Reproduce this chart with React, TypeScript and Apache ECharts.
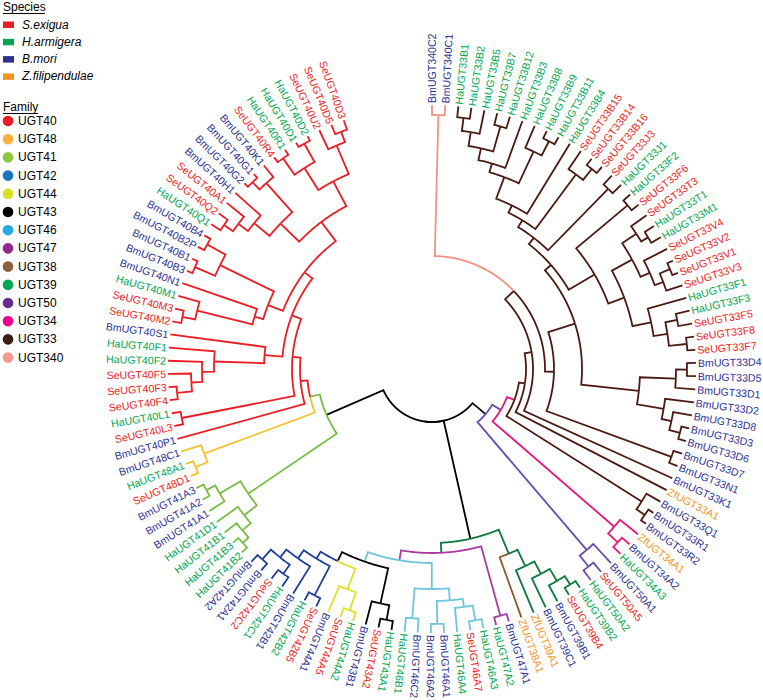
import React, { useEffect, useRef } from 'react';
import * as echarts from 'echarts';

// ---------- leaves (clockwise from 12 o'clock) ----------
const leafNames: string[] = [
  'BmUGT340C2', 'BmUGT340C1', 'HaUGT33B1', 'HaUGT33B2', 'HaUGT33B5', 'HaUGT33B7', 'HaUGT33B12', 'HaUGT33B3',
  'HaUGT33B8', 'HaUGT33B9', 'HaUGT33B11', 'HaUGT33B4', 'SeUGT33B15', 'SeUGT33B14', 'SeUGT33B16', 'SeUGT33J3',
  'HaUGT33J1', 'HaUGT33F2', 'SeUGT33F6', 'SeUGT33T3', 'HaUGT33T1', 'HaUGT33M1', 'SeUGT33V4', 'SeUGT33V2',
  'SeUGT33V1', 'SeUGT33V3', 'HaUGT33F1', 'HaUGT33F3', 'SeUGT33F5', 'SeUGT33F8', 'SeUGT33F7', 'BmUGT33D4',
  'BmUGT33D5', 'BmUGT33D1', 'BmUGT33D2', 'BmUGT33D8', 'BmUGT33D3', 'BmUGT33D6', 'BmUGT33D7', 'BmUGT33N1',
  'BmUGT33K1', 'ZfUGT33A1', 'BmUGT33Q1', 'BmUGT33R1', 'BmUGT33R2', 'ZfUGT34A1', 'BmUGT34A2', 'HaUGT34A3',
  'BmUGT50A1', 'SeUGT50A5', 'HaUGT50A2', 'HaUGT39B2', 'SeUGT39B4', 'BmUGT39B1', 'BmUGT39C1', 'ZfUGT39A1',
  'ZfUGT38A1', 'BmUGT47A1', 'HaUGT47A2', 'HaUGT46A3', 'SeUGT46A7', 'HaUGT46A4', 'BmUGT46A1', 'BmUGT46A2',
  'BmUGT46C2', 'HaUGT46B1', 'HaUGT43A1', 'SeUGT43A2', 'BmUGT43B1', 'HaUGT44A2', 'SeUGT44A5', 'BmUGT44A1',
  'SeUGT42B5', 'HaUGT42B2', 'BmUGT42B1', 'HaUGT42C1', 'SeUGT42C2', 'BmUGT42A1', 'BmUGT42A2', 'HaUGT41B2',
  'HaUGT41B3', 'HaUGT41B1', 'HaUGT41D1', 'BmUGT41A1', 'BmUGT41A2', 'BmUGT41A3', 'SeUGT48D1', 'HaUGT48A1',
  'BmUGT48C1', 'BmUGT40P1', 'SeUGT40L3', 'HaUGT40L1', 'SeUGT40F4', 'SeUGT40F3', 'SeUGT40F5', 'HaUGT40F2',
  'HaUGT40F1', 'BmUGT40S1', 'SeUGT40M2', 'SeUGT40M3', 'HaUGT40M1', 'BmUGT40N1', 'BmUGT40B3', 'BmUGT40B1',
  'BmUGT40B2P', 'BmUGT40B4', 'HaUGT40Q1', 'SeUGT40Q2', 'SeUGT40A1', 'BmUGT40H1', 'BmUGT40G2', 'BmUGT40G1',
  'BmUGT40K1', 'SeUGT40R4', 'HaUGT40R1', 'HaUGT40D1', 'HaUGT40D2', 'SeUGT40U2', 'SeUGT40D5', 'SeUGT40D3',
];

// ---------- legend data ----------
const speciesNames = ['S.exigua', 'H.armigera', 'B.mori', 'Z.filipendulae'];
const speciesPrefixes = ['Se', 'Ha', 'Bm', 'Zf'];
const speciesColors = ['#ED1C24', '#00A651', '#2E3192', '#F7941D'];

const familyNames = ['UGT40', 'UGT48', 'UGT41', 'UGT42', 'UGT44', 'UGT43', 'UGT46', 'UGT47', 'UGT38', 'UGT39', 'UGT50', 'UGT34', 'UGT33', 'UGT340'];
const familyLegendColors = ['#ED1C24', '#FBB040', '#8DC63F', '#1C75BC', '#D7DF23', '#000000', '#27AAE1', '#92278F', '#8B5E3C', '#00A651', '#662D91', '#EC008C', '#3B1E12', '#F4998D'];
const familyBranchColors = ['#EC1C24', '#F7C12B', '#79BD43', '#1E3F9A', '#E0E02C', '#000000', '#6EC6DA', '#A93A9E', '#8B5A2B', '#0A7A3E', '#6A4BAE', '#E8177B', '#4A1A12', '#F29283'];

// ---------- topology: (children)nodeRadius[:familyColourCode]; leaves = indices ----------
const cladeUGT340 = '(0,1)254';
const cladeB1 = '((((2,3)253,4)240,(5,6)252)226,7)214';
const cladeB2 = '(8,(9,10)256)240';
const cladeB15 = '(12,(13,14)256)242';
const cladeJ = '(15,16)252';
const cladeF2 = '(17,18)255';
const cladeTV = '((19,(20,21)253)245,(22,((23,24)258,25)247)238)228';
const cladeF33 = '(26,((27,28)250,(29,30)256)238)224';
const cladeD = '(((31,32)255,33)244,(34,(35,(36,37)256)245)235)208';
const cladeDN = '(38,39)255';
const cladeQR = '(42,(43,44)258)248';
const cladeUGT34 = '(45,(46,47)254)241';
const cladeUGT50 = '(48,(49,50)252)238';

const cladeUGT39 = '((((51,52)256,53)246,54)232,55)218';
const cladeUGT47 = '(57,58)256';
const cladeUGT46 = '((((59,60)255,61)240,(62,63)255)232,(64,65)250)220';
const cladeUGT43 = '((66,67)255,68)240';
const cladeUGT44 = '((69,70)255,71)236';
const cladeUGT42 = '((72,73)255,(74,((75,76)253,(77,78)255)242)232)222';

const cladeUGT41 = '((((79,80)257,81)249,82)238,(83,(84,85)256)246)222';
const cladeUGT48 = '((86,87)256,88)243';
const cladeL40 = '(90,91)255';
const cladeF40 = '((((92,93)256,94)241,95)230,96)218';
const cladeM40 = '(((98,99)255,100)242,101)185';
const cladeB40 = '((102,103)258,(104,105)257)236';
const cladeQ40 = '(((106,107)253,108)242,109)230';
const cladeG40 = '((110,111)259,112)249';
const cladeD40 = '((113,114)258,(115,116)259)238';
const cladeU40 = '(117,(118,119)254)243';

const nU3 = `(${cladeB1},${cladeB2})205`;
const nU4 = `(${nU3},11)182`;
const nU6 = `(${nU4},${cladeB15})174`;
const nU7 = `(${nU6},${cladeJ})166`;
const nM = `(${cladeTV},${cladeF33})205`;
const nN = `(${cladeF2},${nM})188`;
const nO = `(${nU7},${nN})158`;
const nP = `(${nO},${cladeD})150`;
const nX = `(${nP},${cladeDN})122`;
const nT = `(${cladeUGT340},${nX})113:33`;
const nS1 = `(${nT},40)101:33`;
const nS2 = `(${nS1},41)94:33`;
const nS3 = `(${nS2},${cladeQR})88:34`;
const nP34 = `(${nS3},${cladeUGT34})80:50`;
const nRight = `(${nP34},${cladeUGT50})70`;

const n3938 = `(${cladeUGT39},56)200:39`;
const n4244 = `(${cladeUGT44},${cladeUGT42})214`;
const n43x = `(${cladeUGT43},${n4244})204:46`;
const n46x = `(${cladeUGT46},${n43x})194:47`;
const n47x = `(${cladeUGT47},${n46x})184:39`;
const nBottom = `(${n3938},${n47x})174`;

const nFS = `(${cladeF40},97)168`;
const nBMN = `(${cladeM40},${cladeB40})176`;
const nQG = `(${cladeQ40},${cladeG40})210`;
const nDU = `(${cladeD40},${cladeU40})212`;
const nQGDU = `(${nQG},${nDU})184`;
const n40d = `(${nBMN},${nQGDU})160`;
const n40c = `(${nFS},${n40d})150`;
const n40b = `(${cladeL40},${n40c})140`;
const n40a = `(89,${n40b})132`;
const n4840 = `(${cladeUGT48},${n40a})125:41`;
const nLeft = `(${cladeUGT41},${n4840})115`;

const treeSource = `(${nRight},${nBottom},${nLeft})53`;

// ---------- layout constants ----------
const TIP_R = 264;
const LABEL_R = 266;
const ANGLE_MAX = 125.83; // leaf slots for a full turn
const FONT = '"Liberation Sans", Arial, Helvetica, sans-serif';

type TNode = { leaf: number; kids: TNode[]; r: number; code: string; a: number; fams: Set<number> };

function parseTree(src: string): TNode {
  let i = 0;
  const readNum = () => {
    const s = i;
    while (i < src.length && /[0-9.]/.test(src[i])) i++;
    return src.slice(s, i);
  };
  const parseNode = (): TNode => {
    if (src[i] === '(') {
      i++;
      const kids = [parseNode()];
      while (src[i] === ',') { i++; kids.push(parseNode()); }
      i++;
      const r = parseFloat(readNum());
      let code = '';
      if (src[i] === ':') { i++; code = readNum(); }
      return { leaf: -1, kids, r, code, a: 0, fams: new Set<number>() };
    }
    const leaf = parseInt(readNum(), 10);
    return { leaf, kids: [], r: TIP_R, code: '', a: leaf, fams: new Set<number>() };
  };
  return parseNode();
}

function familyOf(name: string) {
  const m = name.match(/UGT\d+/);
  return familyNames.indexOf(m ? m[0] : '');
}

function finish(n: TNode) {
  if (n.leaf >= 0) { n.fams.add(familyOf(leafNames[n.leaf])); return; }
  n.kids.forEach(finish);
  n.a = (n.kids[0].a + n.kids[n.kids.length - 1].a) / 2;
  n.kids.forEach((k) => k.fams.forEach((f) => n.fams.add(f)));
}

function nodeColor(n: TNode): number {
  if (n.fams.size === 1) return Array.from(n.fams)[0];
  if (n.code) return familyNames.indexOf('UGT' + n.code);
  return -1;
}

function collect(n: TNode, out: number[][]) {
  n.kids.forEach((k) => {
    out.push([k.r, k.a, n.r, n.a, nodeColor(k)]);
    collect(k, out);
  });
}

function buildOption() {
  const root = parseTree(treeSource);
  finish(root);
  const branchData: number[][] = [];
  collect(root, branchData);
  const labelData = leafNames.map((_, i) => [LABEL_R, i]);

  const legend: any[] = [];
  legend.push({ type: 'text', x: 3, y: 7, style: { text: 'Species', fontSize: 12, fontFamily: FONT, fill: '#000', verticalAlign: 'middle' } });
  legend.push({ type: 'line', shape: { x1: 3, y1: 13.5, x2: 45, y2: 13.5 }, style: { stroke: '#000', lineWidth: 1 } });
  speciesNames.forEach((s, i) => {
    const y = 24.5 + i * 17.3;
    legend.push({ type: 'rect', shape: { x: 3, y: y - 3, width: 11, height: 6.5 }, style: { fill: speciesColors[i] } });
    legend.push({ type: 'text', x: 22, y, style: { text: s, fontSize: 12, fontStyle: 'italic', fontFamily: FONT, fill: '#000', verticalAlign: 'middle' } });
  });
  legend.push({ type: 'text', x: 3, y: 107, style: { text: 'Family', fontSize: 12, fontFamily: FONT, fill: '#000', verticalAlign: 'middle' } });
  legend.push({ type: 'line', shape: { x1: 3, y1: 113.5, x2: 38, y2: 113.5 }, style: { stroke: '#000', lineWidth: 1 } });
  familyNames.forEach((f, i) => {
    const y = 121 + i * 18.2;
    legend.push({ type: 'circle', shape: { cx: 8, cy: y, r: 5.3 }, style: { fill: familyLegendColors[i] } });
    legend.push({ type: 'text', x: 18, y, style: { text: f, fontSize: 12, fontFamily: FONT, fill: '#000', verticalAlign: 'middle' } });
  });

  return {
    animation: false,
    backgroundColor: '#ffffff',
    polar: { center: [432, 369], radius: 300 },
    angleAxis: { type: 'value', min: 0, max: ANGLE_MAX, startAngle: 90, clockwise: true, show: false },
    radiusAxis: { type: 'value', min: 0, max: 300, show: false },
    graphic: legend,
    series: [
      {
        type: 'custom',
        coordinateSystem: 'polar',
        silent: true,
        data: branchData,
        encode: { radius: 0, angle: 1 },
        renderItem: (params: any, api: any) => {
          const r1 = api.value(0);
          const a1 = api.value(1);
          const r0 = api.value(2);
          const a0 = api.value(3);
          const ci = api.value(4);
          const pts: number[][] = [];
          const n = Math.max(2, Math.ceil(Math.abs(a1 - a0) / 0.1));
          for (let k = 0; k <= n; k++) {
            pts.push(api.coord([r0, a0 + ((a1 - a0) * k) / n]));
          }
          pts.push(api.coord([r1, a1]));
          return {
            type: 'polyline',
            shape: { points: pts },
            style: { stroke: ci < 0 ? '#000000' : familyBranchColors[ci], fill: null, lineWidth: 1.8, lineJoin: 'miter' },
          };
        },
      },
      {
        type: 'custom',
        coordinateSystem: 'polar',
        silent: true,
        data: labelData,
        encode: { radius: 0, angle: 1 },
        renderItem: (params: any, api: any) => {
          const idx = params.dataIndex;
          const p = api.coord([api.value(0), api.value(1)]);
          const c = api.coord([0, 0]);
          const deg = (Math.atan2(p[1] - c[1], p[0] - c[0]) * 180) / Math.PI;
          const norm = (deg + 360) % 360;
          const flip = norm > 134.5 && norm < 269.5;
          const rot = flip ? (-(norm - 180) * Math.PI) / 180 : (-norm * Math.PI) / 180;
          const name = leafNames[idx];
          const sp = speciesPrefixes.indexOf(name.slice(0, 2));
          return {
            type: 'text',
            x: p[0],
            y: p[1],
            rotation: rot,
            style: {
              text: name,
              fill: speciesColors[sp],
              fontSize: 10.6,
              fontFamily: FONT,
              align: flip ? 'right' : 'left',
              verticalAlign: 'middle',
            },
          };
        },
      },
    ],
  };
}

export default function App() {
  const ref = useRef<HTMLDivElement>(null);
  useEffect(() => {
    if (!ref.current) return;
    const chart = echarts.init(ref.current, null, { renderer: 'svg' });
    chart.setOption(buildOption() as any);
    return () => chart.dispose();
  }, []);
  return <div ref={ref} style={{ position: 'absolute', left: 0, top: 0, width: 763, height: 700 }} />;
}
